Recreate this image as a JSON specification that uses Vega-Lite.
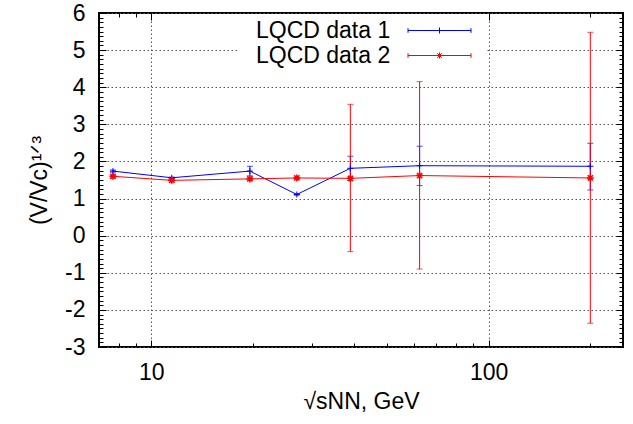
{
  "$schema": "https://vega.github.io/schema/vega-lite/v6.json",
  "width": 524,
  "height": 334,
  "autosize": {"type": "none"},
  "padding": {"left": 99, "top": 13, "right": 10, "bottom": 77},
  "background": "white",
  "config": {
    "view": {"stroke": "black", "strokeWidth": 2},
    "font": "Liberation Sans",
    "axis": {
      "labelFont": "Liberation Sans", "labelFontSize": 23, "labelColor": "black",
      "titleFont": "Liberation Sans", "titleFontSize": 23, "titleFontWeight": "normal", "titleColor": "black",
      "domain": false, "tickColor": "black", "tickWidth": 1,
      "gridColor": "#555555", "gridDash": [1.5, 2.5], "gridWidth": 1, "gridOpacity": 1
    },
    "legend": {"labelFont": "Liberation Sans", "labelFontSize": 23, "labelColor": "black"}
  },
  "data": {
    "values": [
      {"series": "LQCD data 1", "e": 7.7, "v": 1.74, "lo": 1.71, "hi": 1.77},
      {"series": "LQCD data 1", "e": 11.5, "v": 1.56, "lo": 1.54, "hi": 1.58},
      {"series": "LQCD data 1", "e": 19.6, "v": 1.74, "lo": 1.61, "hi": 1.87},
      {"series": "LQCD data 1", "e": 27, "v": 1.11, "lo": 1.09, "hi": 1.13},
      {"series": "LQCD data 1", "e": 38.9, "v": 1.815, "lo": 1.49, "hi": 2.14},
      {"series": "LQCD data 1", "e": 62.4, "v": 1.885, "lo": 1.35, "hi": 2.41},
      {"series": "LQCD data 1", "e": 200, "v": 1.87, "lo": 1.23, "hi": 2.49},
      {"series": "LQCD data 2", "e": 7.7, "v": 1.6, "lo": 1.57, "hi": 1.63},
      {"series": "LQCD data 2", "e": 11.5, "v": 1.49, "lo": 1.46, "hi": 1.52},
      {"series": "LQCD data 2", "e": 19.6, "v": 1.53, "lo": 1.5, "hi": 1.56},
      {"series": "LQCD data 2", "e": 27, "v": 1.555, "lo": 1.53, "hi": 1.58},
      {"series": "LQCD data 2", "e": 38.9, "v": 1.545, "lo": -0.43, "hi": 3.54},
      {"series": "LQCD data 2", "e": 62.4, "v": 1.62, "lo": -0.9, "hi": 4.15},
      {"series": "LQCD data 2", "e": 200, "v": 1.555, "lo": -2.36, "hi": 5.48}
    ]
  },
  "layer": [
    {
      "transform": [{"filter": "datum.series === 'LQCD data 1'"}],
      "mark": {"type": "errorbar", "color": "#0000ff", "ticks": true, "size": 6, "thickness": 1},
      "encoding": {
        "x": {"field": "e", "type": "quantitative",
              "scale": {"type": "log", "domain": [7, 250], "nice": false},
              "axis": {"orient": "bottom", "values": [10, 100], "ticks": false, "grid": true, "labelPadding": 14,
                       "labelExpr": "'' + datum.value", "title": "√sNN, GeV", "titlePadding": 6}},
        "y": {"field": "lo", "type": "quantitative",
              "scale": {"domain": [-3, 6], "nice": false, "zero": false},
              "axis": {"orient": "left", "values": [-3, -2, -1, 0, 1, 2, 3, 4, 5, 6], "ticks": false, "grid": true, "labelPadding": 14,
                       "labelExpr": "datum.value < 0 ? '-' + abs(datum.value) : '' + datum.value",
                       "title": "(V/Vc)¹ᐟ³", "titlePadding": 13}},
        "y2": {"field": "hi"}
      }
    },
    {
      "transform": [{"filter": "datum.series === 'LQCD data 2'"}],
      "mark": {"type": "errorbar", "color": "#ff0000", "ticks": true, "size": 6, "thickness": 1},
      "encoding": {
        "x": {"field": "e", "type": "quantitative",
              "scale": {"type": "log", "domain": [7, 250], "nice": false},
              "axis": {"orient": "bottom", "values": [10, 100], "offset": -7, "tickSize": 7, "labels": false, "grid": false, "title": null}},
        "y": {"field": "lo", "type": "quantitative",
              "scale": {"domain": [-3, 6], "nice": false, "zero": false},
              "axis": {"orient": "left", "values": [-3, -2, -1, 0, 1, 2, 3, 4, 5, 6], "offset": -7, "tickSize": 7, "labels": false, "grid": false, "title": null}},
        "y2": {"field": "hi"}
      }
    },
    {
      "mark": {"type": "line", "strokeWidth": 1},
      "encoding": {
        "x": {"field": "e", "type": "quantitative",
              "scale": {"type": "log", "domain": [7, 250], "nice": false},
              "axis": {"orient": "bottom", "values": [8, 9, 20, 30, 40, 50, 60, 70, 80, 90, 200], "offset": -4, "tickSize": 4, "labels": false, "grid": false, "title": null}},
        "y": {"field": "v", "type": "quantitative",
              "scale": {"domain": [-3, 6], "nice": false, "zero": false},
              "axis": {"orient": "left", "values": [-2.875,-2.75,-2.625,-2.5,-2.375,-2.25,-2.125,-1.875,-1.75,-1.625,-1.5,-1.375,-1.25,-1.125,-0.875,-0.75,-0.625,-0.5,-0.375,-0.25,-0.125,0.125,0.25,0.375,0.5,0.625,0.75,0.875,1.125,1.25,1.375,1.5,1.625,1.75,1.875,2.125,2.25,2.375,2.5,2.625,2.75,2.875,3.125,3.25,3.375,3.5,3.625,3.75,3.875,4.125,4.25,4.375,4.5,4.625,4.75,4.875,5.125,5.25,5.375,5.5,5.625,5.75,5.875],
                       "offset": -4, "tickSize": 4, "labels": false, "grid": false, "title": null}},
        "color": {"field": "series", "type": "nominal",
                  "scale": {"domain": ["LQCD data 1", "LQCD data 2"], "range": ["#0000ff", "#ff0000"]},
                  "legend": {
                    "title": null, "orient": "none", "legendX": 138, "legendY": 1,
                    "fillColor": "white", "padding": 5, "rowPadding": 1,
                    "symbolSize": 100, "symbolStrokeWidth": 1, "symbolOffset": 186, "labelOffset": -195,
                    "labelFontSize": 23, "labelFont": "Liberation Sans", "labelLimit": 300,
                    "encode": {"symbols": {"update": {"shape": {"signal": "datum.value === 'LQCD data 1' ? 'M-6.3,0H6.3M-6.3,-0.46V0.46M6.3,-0.46V0.46M0,-0.6V0.6M8.1,0' : 'M-6.3,0H6.3M-6.3,-0.46V0.46M6.3,-0.46V0.46M0,-0.6V0.6M-0.6,0L0.6,0M-0.45,-0.45L0.45,0.45M-0.45,0.45L0.45,-0.45M8.1,0'"}}}}
                  }}
      }
    },
    {
      "transform": [{"filter": "datum.series === 'LQCD data 1'"}],
      "mark": {"type": "point", "shape": "M-1,0H1M0,-1V1", "filled": false, "color": "#0000ff", "size": 36, "strokeWidth": 1, "opacity": 1},
      "encoding": {
        "x": {"field": "e", "type": "quantitative",
              "scale": {"type": "log", "domain": [7, 250], "nice": false},
              "axis": {"orient": "top", "values": [10, 100], "offset": -7, "tickSize": 7, "labels": false, "grid": false, "title": null}},
        "y": {"field": "v", "type": "quantitative",
              "scale": {"domain": [-3, 6], "nice": false, "zero": false},
              "axis": {"orient": "right", "values": [-3, -2, -1, 0, 1, 2, 3, 4, 5, 6], "offset": -7, "tickSize": 7, "labels": false, "grid": false, "title": null}}
      }
    },
    {
      "transform": [{"filter": "datum.series === 'LQCD data 2'"}],
      "mark": {"type": "point", "shape": "M-1,0H1M0,-1V1M-0.75,-0.75L0.75,0.75M-0.75,0.75L0.75,-0.75", "filled": false, "color": "#ff0000", "size": 49, "strokeWidth": 1.5, "opacity": 1},
      "encoding": {
        "x": {"field": "e", "type": "quantitative",
              "scale": {"type": "log", "domain": [7, 250], "nice": false},
              "axis": {"orient": "top", "values": [8, 9, 20, 30, 40, 50, 60, 70, 80, 90, 200], "offset": -4, "tickSize": 4, "labels": false, "grid": false, "title": null}},
        "y": {"field": "v", "type": "quantitative",
              "scale": {"domain": [-3, 6], "nice": false, "zero": false},
              "axis": {"orient": "right", "values": [-2.875,-2.75,-2.625,-2.5,-2.375,-2.25,-2.125,-1.875,-1.75,-1.625,-1.5,-1.375,-1.25,-1.125,-0.875,-0.75,-0.625,-0.5,-0.375,-0.25,-0.125,0.125,0.25,0.375,0.5,0.625,0.75,0.875,1.125,1.25,1.375,1.5,1.625,1.75,1.875,2.125,2.25,2.375,2.5,2.625,2.75,2.875,3.125,3.25,3.375,3.5,3.625,3.75,3.875,4.125,4.25,4.375,4.5,4.625,4.75,4.875,5.125,5.25,5.375,5.5,5.625,5.75,5.875],
                       "offset": -4, "tickSize": 4, "labels": false, "grid": false, "title": null}}
      }
    }
  ],
  "resolve": {"axis": {"x": "independent", "y": "independent"}}
}
